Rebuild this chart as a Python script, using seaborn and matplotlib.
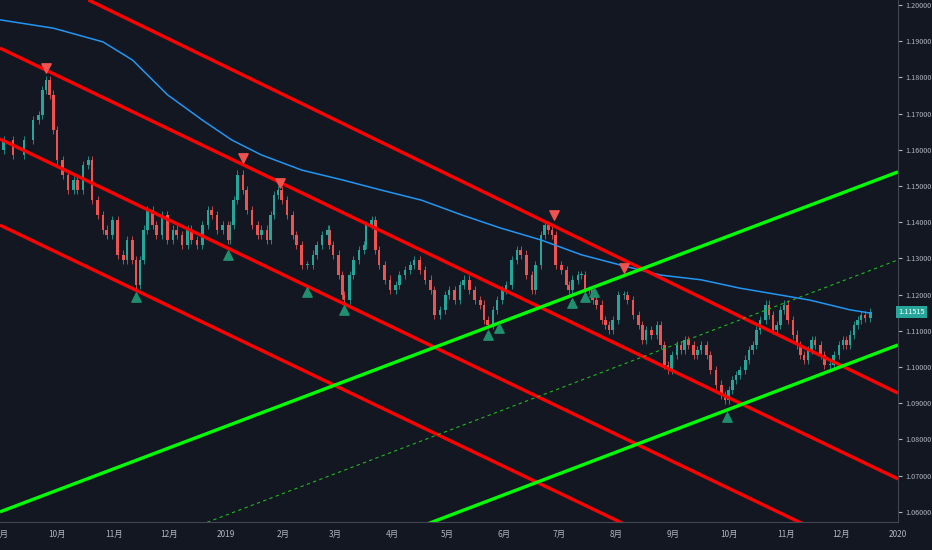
import matplotlib
matplotlib.use("Agg")
import matplotlib.pyplot as plt
import matplotlib.dates as mdates
import pandas as pd
import numpy as np
import seaborn as sns

# closes
closes = [1.1627, 1.1586, 1.1627, 1.1682, 1.1696, 1.1765, 1.1793, 1.1752, 1.1655, 1.1572,
          1.1531, 1.1489, 1.1517, 1.1489, 1.1558, 1.1572, 1.1461, 1.1420, 1.1379, 1.1365,
          1.1406, 1.1310, 1.1296, 1.1351, 1.1296, 1.1227, 1.1296, 1.1379, 1.1434, 1.1392,
          1.1365, 1.1420, 1.1351, 1.1379, 1.1365, 1.1337, 1.1379, 1.1351, 1.1337, 1.1392,
          1.1434, 1.1420, 1.1379, 1.1392, 1.1351, 1.1392, 1.1461, 1.1531, 1.1489, 1.1434,
          1.1392, 1.1365, 1.1379, 1.1351, 1.1420, 1.1475, 1.1489, 1.1461, 1.1420, 1.1365,
          1.1337, 1.1282, 1.1282, 1.1310, 1.1337, 1.1365, 1.1379, 1.1337, 1.1310, 1.1254,
          1.1199, 1.1185, 1.1254, 1.1296, 1.1323, 1.1337, 1.1392, 1.1406, 1.1323, 1.1282,
          1.1241, 1.1213, 1.1227, 1.1254, 1.1268, 1.1282, 1.1296, 1.1268, 1.1241, 1.1213,
          1.1144, 1.1158, 1.1199, 1.1213, 1.1185, 1.1227, 1.1241, 1.1213, 1.1185, 1.1172,
          1.1130, 1.1116, 1.1158, 1.1185, 1.1213, 1.1227, 1.1296, 1.1323, 1.1310, 1.1254,
          1.1213, 1.1282, 1.1365, 1.1392, 1.1379, 1.1365, 1.1282, 1.1268, 1.1227, 1.1213,
          1.1241, 1.1254, 1.1254, 1.1213, 1.1213, 1.1185, 1.1172, 1.1130, 1.1116, 1.1102,
          1.1130, 1.1199, 1.1199, 1.1185, 1.1144, 1.1116, 1.1075, 1.1102, 1.1089, 1.1116,
          1.1061, 1.1006, 1.0992, 1.1033, 1.1061, 1.1047, 1.1075, 1.1061, 1.1033, 1.1047,
          1.1061, 1.1033, 1.0992, 1.0951, 1.0923, 1.0909, 1.0937, 1.0964, 1.0978, 1.0992,
          1.1020, 1.1047, 1.1061, 1.1102, 1.1130, 1.1172, 1.1144, 1.1102, 1.1116, 1.1158,
          1.1172, 1.1130, 1.1089, 1.1061, 1.1033, 1.1020, 1.1047, 1.1075, 1.1061, 1.1033,
          1.1006, 1.1006, 1.1033, 1.1061, 1.1075, 1.1061, 1.1089, 1.1116, 1.1130, 1.1144,
          1.1136, 1.1151]
# candle positions, in days from 2019-01-01
day_offsets = [-121, -116, -110, -105, -102, -100, -98, -96, -94, -92, -89, -86, -83, -81, -78,
               -75, -73, -70, -67, -65, -62, -59, -56, -54, -51, -49, -47, -45, -43, -40,
               -38, -35, -32, -29, -27, -24, -21, -19, -16, -13, -10, -8, -5, -2, 1,
               2, 4, 6, 9, 11, 14, 17, 19, 22, 24, 26, 28, 30, 33, 36,
               38, 41, 44, 47, 49, 52, 55, 56, 58, 61, 63, 64, 67, 69, 72,
               75, 76, 79, 81, 83, 86, 89, 92, 94, 97, 100, 102, 105, 108, 111,
               113, 116, 119, 121, 124, 127, 129, 132, 135, 138, 140, 142, 145, 147, 150,
               152, 155, 158, 160, 163, 166, 168, 171, 173, 175, 177, 179, 182, 185, 186,
               188, 191, 193, 195, 197, 199, 201, 204, 206, 208, 210, 213, 216, 218, 221,
               224, 226, 228, 231, 234, 236, 238, 240, 242, 245, 247, 249, 251, 254, 256,
               258, 261, 263, 266, 269, 271, 273, 275, 277, 279, 282, 284, 286, 288, 290,
               293, 295, 297, 299, 301, 303, 305, 308, 310, 312, 314, 316, 318, 320, 323,
               325, 328, 330, 333, 335, 337, 339, 341, 343, 345, 347, 350]
first_open = 1.1600

# moving average (blue)
ma_dates = ["2018-08-31", "2018-09-29", "2018-10-26", "2018-11-11", "2018-11-30", "2018-12-19",
            "2019-01-04", "2019-01-20", "2019-02-11", "2019-03-05", "2019-03-26", "2019-04-17",
            "2019-05-09", "2019-05-30", "2019-06-21", "2019-07-13", "2019-08-03", "2019-08-25",
            "2019-09-16", "2019-10-07", "2019-10-29", "2019-11-14", "2019-12-06", "2019-12-17"]
ma_values = [1.1959, 1.1936, 1.1898, 1.1848, 1.1752, 1.1682, 1.1627, 1.1586, 1.1544, 1.1517,
             1.1489, 1.1461, 1.1420, 1.1384, 1.1351, 1.1310, 1.1282, 1.1254, 1.1241, 1.1218,
             1.1199, 1.1185, 1.1158, 1.1149]

# trend lines: (date0, price0, date1, price1)
red_lines = [("2018-10-18", 1.2014, "2020-01-01", 1.0928),
             ("2018-08-31", 1.1881, "2020-01-01", 1.0691),
             ("2018-08-31", 1.1630, "2019-11-23", 1.0536),
             ("2018-08-31", 1.1392, "2019-08-14", 1.0545)]
green_lines = [("2018-08-31", 1.0600, "2020-01-01", 1.1539),
               ("2019-04-09", 1.0545, "2020-01-01", 1.1061)]
dotted_line = ("2018-12-08", 1.0545, "2020-01-01", 1.1296)

down_dates = ["2018-09-25", "2019-01-10", "2019-01-30", "2019-06-28", "2019-08-05"]
down_prices = [1.1826, 1.1577, 1.1508, 1.1420, 1.1274]
up_dates = ["2018-11-13", "2019-01-02", "2019-02-14", "2019-03-06", "2019-05-23", "2019-05-29",
            "2019-07-08", "2019-07-15", "2019-07-20", "2019-09-30"]
up_prices = [1.1194, 1.1310, 1.1207, 1.1158, 1.1089, 1.1108, 1.1177, 1.1194, 1.1207, 1.0862]

y_ticks = [1.06, 1.07, 1.08, 1.09, 1.10, 1.11, 1.12, 1.13, 1.14, 1.15, 1.16, 1.17, 1.18, 1.19, 1.20]
last_price = 1.11515

sns.set_style("dark")
plt.rcParams['font.family'] = ['Noto Sans CJK SC', 'DejaVu Sans']

bg = "#131722"
up_col = "#26a69a"
dn_col = "#ef5350"

fig = plt.figure(figsize=(9.32, 5.5), dpi=100, facecolor=bg)
ax = fig.add_axes([0, 0.051, 898 / 932, 0.949])
ax.set_facecolor(bg)

n = min(len(closes), len(day_offsets))
base = mdates.date2num(pd.Timestamp("2019-01-01"))
xs = [base + d for d in day_offsets[:n]]
opens = [first_open] + closes[:n - 1]
w = 1.4
for x, o, c in zip(xs, opens, closes[:n]):
    col = up_col if c >= o else dn_col
    hi = max(o, c) + 0.0012
    lo = min(o, c) - 0.0012
    ax.vlines(x, lo, hi, color=col, lw=0.7, alpha=0.8)
    ax.bar(x, max(abs(c - o), 0.0002), bottom=min(o, c), width=w, color=col, lw=0)

ma = pd.DataFrame({"date": pd.to_datetime(ma_dates), "ma": ma_values})
sns.lineplot(data=ma, x="date", y="ma", ax=ax, color="#2196f3", lw=1.1)

def draw_line(seg, **kw):
    d0, p0, d1, p1 = seg
    ax.plot([pd.Timestamp(d0), pd.Timestamp(d1)], [p0, p1], **kw)

for seg in red_lines:
    draw_line(seg, color="#ff0000", lw=2.4, solid_capstyle="butt")
for seg in green_lines:
    draw_line(seg, color="#00ff00", lw=2.4, solid_capstyle="butt")
draw_line(dotted_line, color="#1fb81f", lw=0.8, ls=(0, (3, 3)))

ax.scatter(pd.to_datetime(down_dates), down_prices, marker="v", s=45, color=dn_col, zorder=5)
ax.scatter(pd.to_datetime(up_dates), up_prices, marker="^", s=45, color="#1f8f6e", zorder=5)

ax.set_xlim(pd.Timestamp("2018-08-31"), pd.Timestamp("2020-01-01"))
ax.set_ylim(1.05722, 1.20138)

ax.yaxis.tick_right()
ax.set_yticks(y_ticks)
ax.set_yticklabels([f"{v:.5f}" for v in y_ticks])
ax.tick_params(axis="y", colors="#b2b5be", labelsize=5.2, length=3, pad=2, direction="out")

months = pd.date_range("2018-09-01", "2020-01-01", freq="MS")
ax.set_xticks(months)
ax.set_xticklabels([str(m.year) if m.month == 1 else f"{m.month}月" for m in months])
ax.tick_params(axis="x", colors="#b2b5be", labelsize=6, length=3, pad=3)
ax.set_xlabel("")
ax.set_ylabel("")
ax.grid(False)
for s in ["top", "left"]:
    ax.spines[s].set_visible(False)
ax.spines["right"].set_color("#434651")
ax.spines["bottom"].set_color("#434651")

ax.text(1.0, last_price, f"{last_price:.5f}", transform=ax.get_yaxis_transform(),
        color="white", fontsize=5.2, va="center", ha="left",
        bbox=dict(boxstyle="square,pad=0.3", fc=up_col, ec="none"))

fig.savefig("out.png", facecolor=bg)
